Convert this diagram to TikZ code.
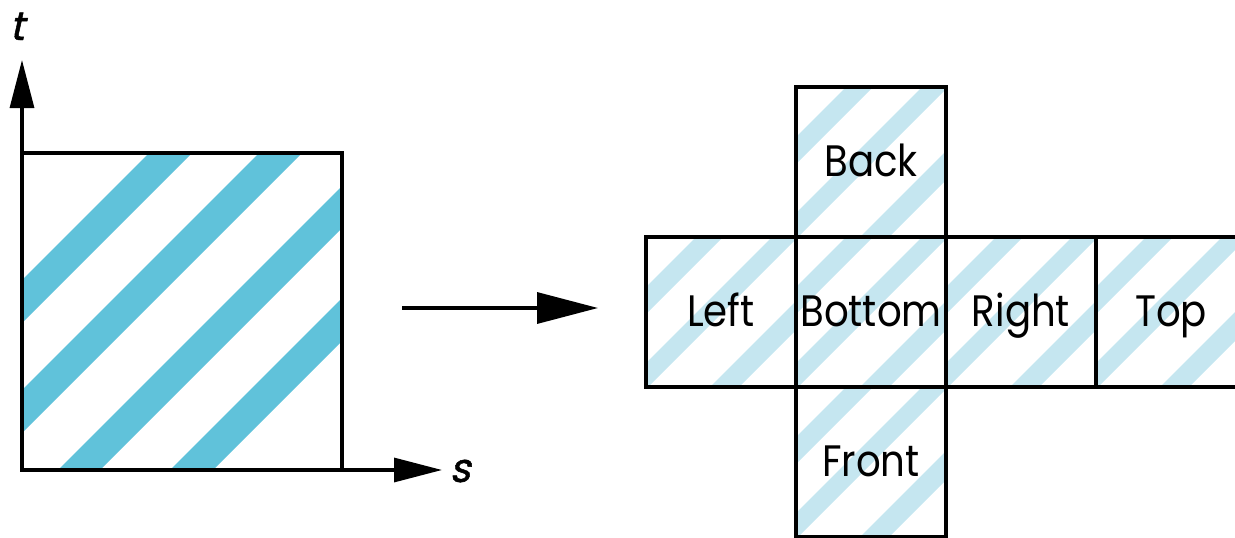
\documentclass[tikz,border=0pt]{standalone}
\usepackage{fontspec}
\usetikzlibrary{arrows.meta}
\newfontfamily\facefont[FakeStretch=0.88]{Poppins}
\newfontfamily\axfont[FakeSlant=0.22,FakeBold=1.2]{Poppins}
\definecolor{stripeDark}{RGB}{96,194,218}
\definecolor{stripeLight}{RGB}{197,230,240}
\tikzset{
  face/.style={draw, line width=3.2pt, minimum width=150pt, minimum height=150pt,
    inner sep=0pt, outer sep=0pt, font=\facefont\fontsize{44}{44}\selectfont,
    text height=30pt, text depth=2pt},
  texsquare/.style={draw, line width=3.2pt, minimum width=320pt, minimum height=317pt,
    inner sep=0pt, outer sep=0pt},
  axisarrow/.style={line width=3.2pt, -{Triangle[length=48pt,width=24pt]}},
  maparrow/.style={line width=3.4pt, -{Triangle[length=61pt,width=31pt]}},
  axlabel/.style={font=\axfont\fontsize{40}{40}\selectfont, inner sep=0pt},
}
\begin{document}
\begin{tikzpicture}[x=1pt,y=-1pt]
  \clip (0,0) rectangle (1235,538);
  % stripes of the texture square
  \begin{scope}
    \clip (22,153) rectangle (342,470);
    \foreach \a/\b in {302/345,412/455,528/570,640/683}{
      \fill[stripeDark] (\a+20,-20) -- (\b+20,-20) -- (\b-520,520) -- (\a-520,520) -- cycle;}
  \end{scope}
  % stripes of the cube faces
  \foreach \x/\y in {796/87,646/237,796/237,946/237,1096/237,796/387}{
    \begin{scope}
      \clip (\x,\y) rectangle ++(150,150);
      \foreach \a/\b in {50/77,126/152,214/243}{
        \fill[stripeLight] (\x+\a+12,\y-12) -- (\x+\b+12,\y-12) -- (\x+\b-170,\y+170) -- (\x+\a-170,\y+170) -- cycle;}
    \end{scope}}
  % texture square
  \node[texsquare] (tex) at (182,311.5) {};
  \coordinate (ttip) at (22,60);
  \coordinate (stip) at (442,470);
  \draw[axisarrow] (tex.south west) -- (ttip);
  \draw[axisarrow] (tex.south west) -- (stip);
  \node[axlabel, anchor=base] (tlab) at (17,40) {t};
  \node[axlabel, anchor=base] (slab) at (460,482) {s};
  % mapping arrow
  \coordinate (mstart) at (402,308);
  \coordinate (mend) at (598,308);
  \draw[maparrow] (mstart) -- (mend);
  % cube net
  \node[face] (back) at (871,162) {Back};
  \node[face] (left) at (721,312) {Left};
  \node[face] (bottom) at (871,312) {Bottom};
  \node[face] (right) at (1021,312) {Right};
  \node[face] (top) at (1171,312) {Top};
  \node[face] (front) at (871,462) {Front};
\end{tikzpicture}
\end{document}
